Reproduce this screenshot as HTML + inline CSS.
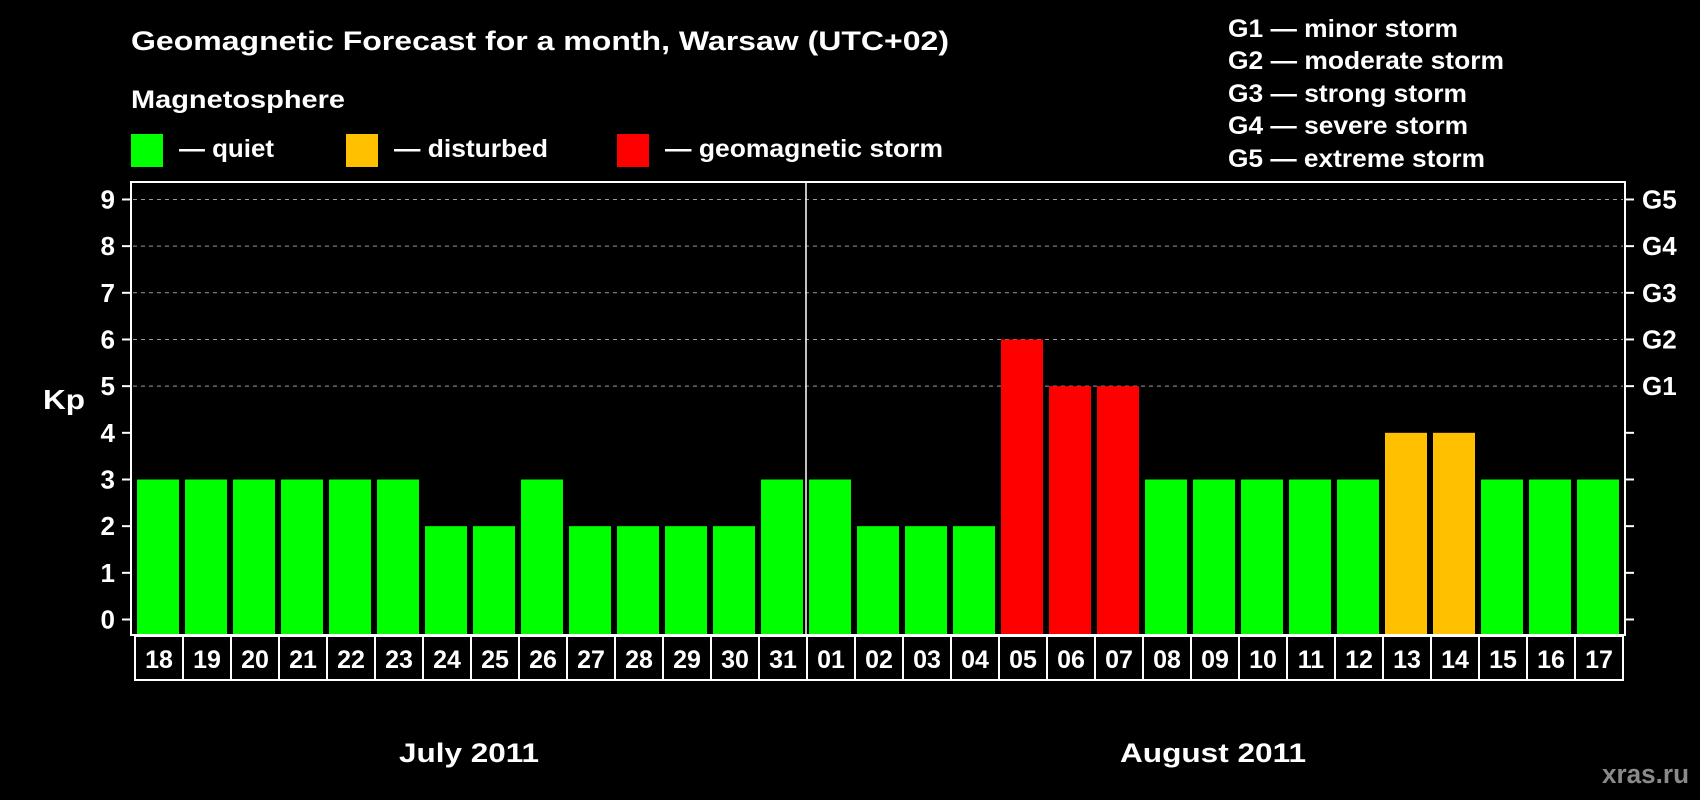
<!DOCTYPE html>
<html><head><meta charset="utf-8"><style>
html,body{margin:0;padding:0;background:#000;}
svg{display:block;font-family:"Liberation Sans",sans-serif;font-weight:bold;}
</style></head><body>
<svg id="chart" width="1700" height="800" viewBox="0 0 1700 800">
<rect x="0" y="0" width="1700" height="800" fill="#000"/>
<text x="131" y="50" fill="#fff" font-size="27" textLength="818" lengthAdjust="spacingAndGlyphs">Geomagnetic Forecast for a month, Warsaw (UTC+02)</text>
<text x="131" y="108" fill="#fff" font-size="25" textLength="214" lengthAdjust="spacingAndGlyphs">Magnetosphere</text>
<g>
<rect x="131" y="134" width="32" height="33" fill="#00ff00"/>
<text x="179" y="157" fill="#fff" font-size="25" textLength="95" lengthAdjust="spacingAndGlyphs">— quiet</text>
<rect x="346" y="134" width="32" height="33" fill="#ffc000"/>
<text x="394" y="157" fill="#fff" font-size="25" textLength="154" lengthAdjust="spacingAndGlyphs">— disturbed</text>
<rect x="617" y="134" width="32" height="33" fill="#ff0000"/>
<text x="665" y="157" fill="#fff" font-size="25" textLength="278" lengthAdjust="spacingAndGlyphs">— geomagnetic storm</text>
</g>
<g fill="#fff" font-size="25">
<text x="1228" y="37" textLength="230" lengthAdjust="spacingAndGlyphs">G1 — minor storm</text>
<text x="1228" y="69" textLength="276" lengthAdjust="spacingAndGlyphs">G2 — moderate storm</text>
<text x="1228" y="102" textLength="239" lengthAdjust="spacingAndGlyphs">G3 — strong storm</text>
<text x="1228" y="134" textLength="240" lengthAdjust="spacingAndGlyphs">G4 — severe storm</text>
<text x="1228" y="167" textLength="257" lengthAdjust="spacingAndGlyphs">G5 — extreme storm</text>
</g>
<text x="43" y="409" fill="#fff" font-size="28" textLength="42" lengthAdjust="spacingAndGlyphs">Kp</text>
<text x="399" y="762" fill="#fff" font-size="27" textLength="140" lengthAdjust="spacingAndGlyphs">July 2011</text>
<text x="1120" y="762" fill="#fff" font-size="27" textLength="186" lengthAdjust="spacingAndGlyphs">August 2011</text>
<text x="1602" y="783" fill="#8a8a8a" font-size="27" textLength="87" lengthAdjust="spacingAndGlyphs">xras.ru</text>
<g id="plot"></g>
</svg>
<script>
const days = ["18","19","20","21","22","23","24","25","26","27","28","29","30","31","01","02","03","04","05","06","07","08","09","10","11","12","13","14","15","16","17"];
const kpValues = [3,3,3,3,3,3,2,2,3,2,2,2,2,3,3,2,2,2,6,5,5,3,3,3,3,3,4,4,3,3,3];
const yTicks = [0,1,2,3,4,5,6,7,8,9];
const gLabels = ["","","","","","G1","G2","G3","G4","G5"];
const monthSplitIndex = 14;

(function(){
const NS = "http://www.w3.org/2000/svg";
const plot = document.getElementById("plot");
const pLeft = 131, pRight = 1625, pTop = 182, pBottom = 635;
const slotStart = 134, slotW = 48, barW = 42;
function yScale(v){ return 619.5 - v * 46.67; }
function xSlot(i){ return slotStart + i * slotW; }
function mk(tag, attrs){ const e = document.createElementNS(NS, tag); for (const k in attrs) e.setAttribute(k, attrs[k]); plot.appendChild(e); return e; }
function color(v){ return v >= 5 ? "#ff0000" : (v >= 4 ? "#ffc000" : "#00ff00"); }

yTicks.forEach((t, i) => {
  const y = yScale(t);
  if (t >= 5) {
    const g = mk("line", {x1:pLeft+2, x2:pRight-2, y1:y, y2:y, stroke:"#999", "stroke-width":1, "stroke-dasharray":"4,4"});
    
    
  }
  const tl = mk("line", {x1:pLeft-9, x2:pLeft, y1:y, y2:y, stroke:"#fff", "stroke-width":2});
  
  
  const tr = mk("line", {x1:pRight, x2:pRight+9, y1:y, y2:y, stroke:"#fff", "stroke-width":2});
  
  
  const lab = mk("text", {x:115, y:y+9, fill:"#fff", "font-size":26, "text-anchor":"end"});
  lab.textContent = t;
  
  
  if (gLabels[i]) {
    const gl = mk("text", {x:1642, y:y+9, fill:"#fff", "font-size":26});
    gl.textContent = gLabels[i];
    
    
  }
});

kpValues.forEach((v, i) => {
  const x = xSlot(i) + (slotW - barW) / 2;
  const b = mk("rect", {x:x, y:yScale(v), width:barW, height:pBottom - 1 - yScale(v), fill:color(v)});
  
  
  const cell = mk("rect", {x:xSlot(i)+1, y:pBottom+1, width:slotW, height:44, fill:"none", stroke:"#fff", "stroke-width":2});
  
  
  const dl = mk("text", {x:xSlot(i)+1+slotW/2, y:pBottom+33, fill:"#fff", "font-size":25, "text-anchor":"middle"});
  dl.textContent = days[i];
  
  
});

const frame = mk("rect", {x:pLeft, y:pTop, width:pRight-pLeft, height:pBottom-pTop, fill:"none", stroke:"#fff", "stroke-width":2});


const divX = xSlot(monthSplitIndex);
const div = mk("line", {x1:divX, x2:divX, y1:pTop, y2:pBottom, stroke:"#fff", "stroke-width":1.5});


})();
</script>
</body></html>
